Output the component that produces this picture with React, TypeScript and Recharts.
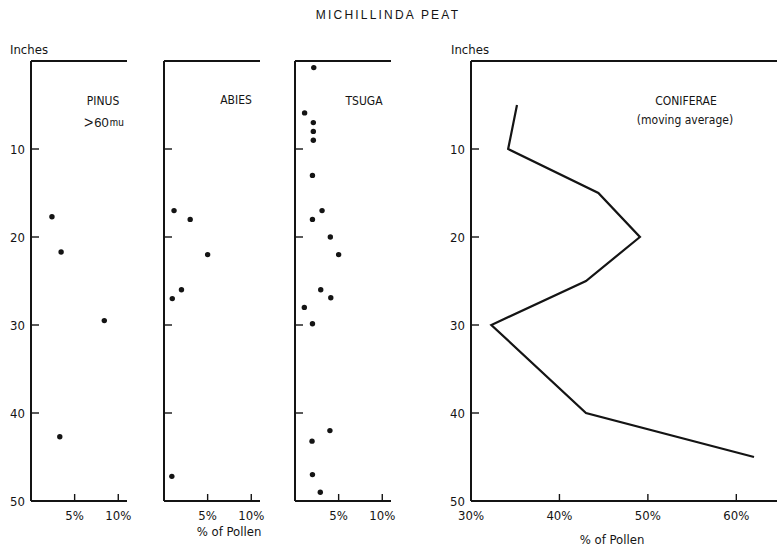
import { ScatterChart, Scatter, XAxis, YAxis } from 'recharts';

// depth in inches (0 at the top), pollen share in percent
const depthTicks = [10, 20, 30, 40, 50];
const smallPctTicks = [5, 10];
const coniferPctTicks = [30, 40, 50, 60];

const pinusDepth = [17.7, 21.7, 29.5, 42.7];
const pinusPct = [2.4, 3.45, 8.4, 3.3];

const abiesDepth = [17, 18, 22, 26, 27, 47.2];
const abiesPct = [1.15, 3.0, 5.0, 2.0, 0.95, 0.9];

const tsugaDepth = [0.75, 5.9, 7, 8, 9, 13, 17, 18, 20, 22, 26, 26.9, 28, 29.85, 42, 43.2, 47, 49];
const tsugaPct = [2.15, 1.1, 2.1, 2.1, 2.1, 2.0, 3.1, 2.0, 4.05, 5.0, 2.95, 4.1, 1.07, 2.0, 4.0, 1.95, 2.0, 2.9];

const coniferDepth = [5, 10, 15, 20, 25, 30, 40, 45];
const coniferPct = [35.2, 34.2, 44.4, 49.1, 43.0, 32.3, 43.0, 62.0];

const W = 777;
const H = 545;
const TOP = 61;
const BOTTOM = 501;
const INK = '#141414';
const NARROW = "'Liberation Sans Narrow', 'DejaVu Sans Condensed', 'Arial Narrow', sans-serif";
const SANS = "'Liberation Sans', Arial, sans-serif";

const toPoints = (pct: number[], depth: number[]) => pct.map((x, i) => ({ x, y: depth[i] }));

function DepthTick(props: any) {
  const { x, y, payload, labels } = props;
  const v = payload.value;
  return (
    <g>
      {v !== 50 && <line x1={x} x2={x + 8} y1={y} y2={y} stroke={INK} strokeWidth={1.4} />}
      {labels && (
        <text x={x - 6} y={y} textAnchor="end" dominantBaseline="central" fontSize={13} fontFamily={NARROW} fill={INK}>
          {v}
        </text>
      )}
    </g>
  );
}

function BottomTick(props: any) {
  const { x, y, payload, min } = props;
  const v = payload.value;
  return (
    <g>
      {v !== min && <line x1={x} x2={x} y1={y} y2={y - 7} stroke={INK} strokeWidth={1.4} />}
      <text x={x} y={y + 14} textAnchor="middle" dominantBaseline="central" fontSize={13} fontFamily={NARROW} fill={INK}>
        {v}%
      </text>
    </g>
  );
}

function TopTick(props: any) {
  const { x, y, payload, min } = props;
  if (payload.value === min) return <g />;
  return <line x1={x} x2={x} y1={y} y2={y + 8} stroke={INK} strokeWidth={1.4} />;
}

interface PanelProps {
  left: number;
  right: number;
  data: { x: number; y: number }[];
  xMin: number;
  xMax: number;
  xTicks: number[];
  depthLabels?: boolean;
  line?: boolean;
}

function Panel({ left, right, data, xMin, xMax, xTicks, depthLabels, line }: PanelProps) {
  const axisLine = { stroke: INK, strokeWidth: 2 };
  // axes are 1px thick so the plot area lands exactly on [left, right] x [TOP, BOTTOM]
  return (
    <div style={{ position: 'absolute', left: 0, top: 0 }}>
      <ScatterChart
        width={W}
        height={H}
        margin={{ top: TOP - 1, bottom: H - BOTTOM - 1, left: left - 1, right: W - right }}
      >
        <XAxis
          xAxisId="b"
          orientation="bottom"
          type="number"
          dataKey="x"
          domain={[xMin, xMax]}
          ticks={xTicks}
          height={1}
          tickSize={0}
          tickMargin={0}
          axisLine={axisLine}
          tickLine={false}
          tick={(p: any) => <BottomTick {...p} min={xMin} />}
          allowDataOverflow
        />
        <XAxis
          xAxisId="t"
          orientation="top"
          type="number"
          domain={[xMin, xMax]}
          ticks={xTicks}
          height={1}
          tickSize={0}
          tickMargin={0}
          axisLine={axisLine}
          tickLine={false}
          tick={(p: any) => <TopTick {...p} min={xMin} />}
          allowDataOverflow
        />
        <YAxis
          type="number"
          dataKey="y"
          domain={[0, 50]}
          reversed
          ticks={depthTicks}
          width={1}
          tickSize={0}
          tickMargin={0}
          axisLine={axisLine}
          tickLine={false}
          tick={(p: any) => <DepthTick {...p} labels={depthLabels} />}
          allowDataOverflow
        />
        {line ? (
          <Scatter
            xAxisId="b"
            data={data}
            line={{ stroke: INK, strokeWidth: 2.2 }}
            shape={() => <g />}
            isAnimationActive={false}
          />
        ) : (
          <Scatter
            xAxisId="b"
            data={data}
            fill={INK}
            shape={(p: any) => <circle cx={p.cx} cy={p.cy} r={2.7} fill={INK} />}
            isAnimationActive={false}
          />
        )}
      </ScatterChart>
    </div>
  );
}

function Labels() {
  const t = { fill: INK, fontFamily: NARROW, fontSize: 12, dominantBaseline: 'central' as const };
  return (
    <svg width={W} height={H} style={{ position: 'absolute', left: 0, top: 0 }}>
      <text x={388} y={15} textAnchor="middle" dominantBaseline="central" fontSize={12} letterSpacing={2.2} fontFamily={SANS} fill={INK}>
        MICHILLINDA PEAT
      </text>
      <text x={10} y={49} {...t} fontSize={13}>Inches</text>
      <text x={451} y={49} {...t} fontSize={13}>Inches</text>
      <text x={103} y={101} textAnchor="middle" {...t}>PINUS</text>
      <text x={84} y={122} {...t} fontFamily={SANS}>
        <tspan fontSize={16}>&gt;</tspan>
        <tspan fontSize={13} dx={1}>60</tspan>
        <tspan fontSize={10} dx={1}>mu</tspan>
      </text>
      <text x={236} y={100} textAnchor="middle" {...t}>ABIES</text>
      <text x={364} y={101} textAnchor="middle" {...t}>TSUGA</text>
      <text x={686} y={101} textAnchor="middle" {...t}>CONIFERAE</text>
      <text x={685} y={120} textAnchor="middle" {...t}>(moving average)</text>
      <text x={229} y={531} textAnchor="middle" {...t} fontSize={13}>% of Pollen</text>
      <text x={612} y={539} textAnchor="middle" {...t} fontSize={13}>% of Pollen</text>
    </svg>
  );
}

export default function App() {
  return (
    <div style={{ position: 'absolute', left: 0, top: 0, width: W, height: H, overflow: 'hidden', background: '#fff' }}>
      <Panel left={31} right={127} data={toPoints(pinusPct, pinusDepth)} xMin={0} xMax={11} xTicks={smallPctTicks} depthLabels />
      <Panel left={164} right={260} data={toPoints(abiesPct, abiesDepth)} xMin={0} xMax={11} xTicks={smallPctTicks} />
      <Panel left={295} right={391} data={toPoints(tsugaPct, tsugaDepth)} xMin={0} xMax={11} xTicks={smallPctTicks} />
      <Panel
        left={471}
        right={777}
        data={toPoints(coniferPct, coniferDepth)}
        xMin={30}
        xMax={64.6}
        xTicks={coniferPctTicks}
        depthLabels
        line
      />
      <Labels />
    </div>
  );
}
